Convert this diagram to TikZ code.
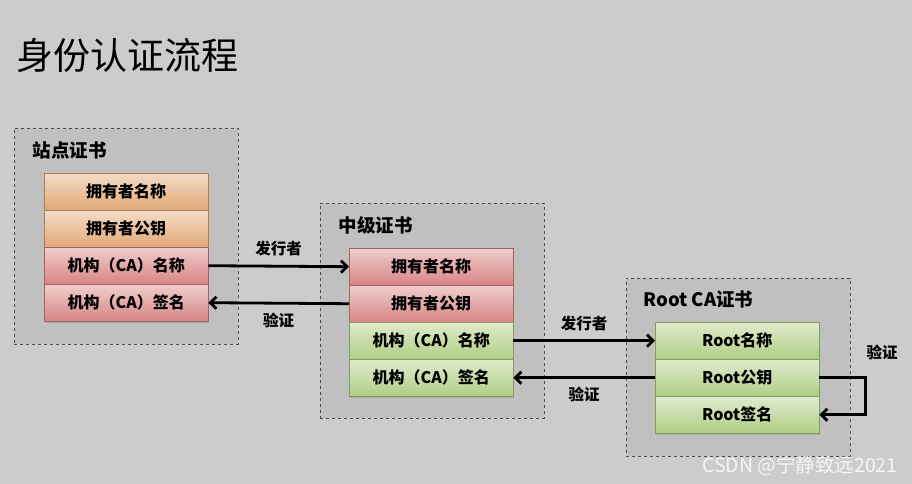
\documentclass[tikz,border=0pt]{standalone}
\usepackage{fontspec}
\setmainfont{Noto Sans CJK SC}
\usetikzlibrary{positioning,shadows,arrows.meta}
\definecolor{bggray}{RGB}{204,204,204}
\definecolor{certgray}{RGB}{192,192,192}
\definecolor{orcell}{RGB}{226,168,118}
\definecolor{redcell}{RGB}{216,132,132}
\definecolor{greencell}{RGB}{176,206,132}

\begin{document}
\begin{tikzpicture}[x=1pt,y=-1pt,
    cert/.style={draw=black!70,dashed,fill=certgray,minimum width=224pt,anchor=north west,inner sep=0pt},
    cell/.style={draw=#1!75!black,line width=0.4pt,top color=#1!40!white,bottom color=#1,
      minimum width=164pt,minimum height=37pt,inner sep=0pt,anchor=north west,
      drop shadow={opacity=0.3,shadow xshift=0.8pt,shadow yshift=-1.5pt},
      font=\fontsize{16}{18}\selectfont\bfseries},
    head/.style={anchor=west,font=\fontsize{18.5}{20}\selectfont\bfseries},
    lbl/.style={font=\fontsize{15.5}{17}\selectfont\bfseries},
    conn/.style={-{Straight Barb[length=6pt,width=12pt]},line width=2.8pt}]
  \path[use as bounding box,fill=bggray] (0,0) rectangle (912,484);
  \node[anchor=west,font=\fontsize{37}{40}\selectfont] (title) at (13,56) {身份认证流程};

  % certificates
  \node[cert,minimum height=216pt] (site) at (14,128) {};
  \node[cert,minimum height=215pt] (mid) at (320,203) {};
  \node[cert,minimum height=178pt] (root) at (626,278) {};
  \node[head] (sitehd) at (29,150) {站点证书};
  \node[head] (midhd) at (335,225) {中级证书};
  \node[head] (roothd) at (640,299) {Root CA证书};

  \foreach \t/\c [count=\i] in {拥有者名称/orcell,拥有者公钥/orcell,机构（CA）名称/redcell,机构（CA）签名/redcell}
    \node[cell=\c] (s\i) at (44,{136+37*\i}) {\t};
  \foreach \t/\c [count=\i] in {拥有者名称/redcell,拥有者公钥/redcell,机构（CA）名称/greencell,机构（CA）签名/greencell}
    \node[cell=\c] (m\i) at (349,{211+37*\i}) {\t};
  \foreach \t [count=\i] in {Root名称,Root公钥,Root签名}
    \node[cell=greencell] (r\i) at (655,{285+37*\i}) {\t};

  % issuer / verify
  \draw[conn] (s3.east) -- (m1.west) node[lbl,midway,above=5pt] (iss1) {发行者};
  \draw[conn] (m2.west) -- (s4.east) node[lbl,midway,below=5pt] (ver1) {验证};
  \draw[conn] (m3.east) -- (r1.west) node[lbl,midway,above=5pt] (iss2) {发行者};
  \draw[conn] (r2.west) -- (m4.east) node[lbl,midway,below=5pt] (ver2) {验证};
  \draw[conn] (r2.east) -- ++(46,0) |- (r3.east);
  \node[lbl] (ver3) at (882,352) {验证};

  \node[anchor=east,text=white!92!gray,font=\fontsize{19.5}{21}\selectfont] (mark) at (901,466) {CSDN @宁静致远2021};
\end{tikzpicture}
\end{document}
